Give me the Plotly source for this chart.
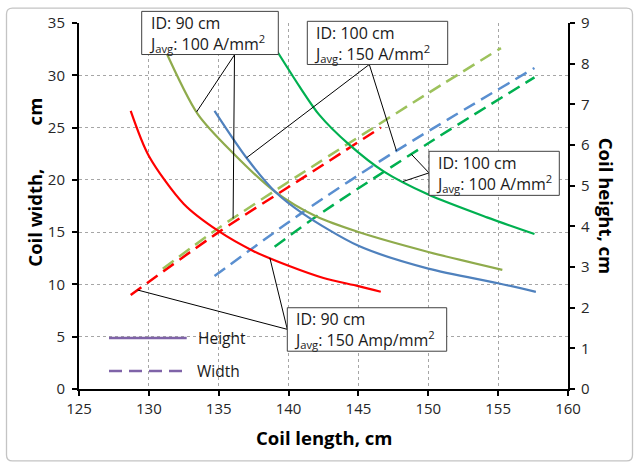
import numpy as np
import plotly.graph_objects as go

# ---------------- data ----------------
# Coil height (solid lines, right axis, cm) vs coil length (cm)
red_h_x = [128.7, 130.0, 132.5, 135.0, 137.5, 140.0, 142.5, 145.0, 146.6]
red_h_y = [6.84, 5.73, 4.55, 3.88, 3.39, 3.03, 2.73, 2.53, 2.39]
olive_h_x = [131.0, 133.5, 136.0, 139.0, 142.0, 145.0, 150.0, 155.3]
olive_h_y = [8.46, 6.76, 5.81, 4.86, 4.24, 3.86, 3.37, 2.93]
blue_h_x = [134.7, 137.0, 139.1, 141.0, 145.0, 150.0, 155.0, 157.7]
blue_h_y = [6.84, 5.68, 4.83, 4.32, 3.52, 2.96, 2.60, 2.39]
green_h_x = [138.9, 140.8, 142.2, 144.3, 146.8, 150.0, 154.2, 157.6]
green_h_y = [8.46, 7.43, 6.74, 6.02, 5.35, 4.78, 4.22, 3.81]

# Coil width (dashed lines, left axis, cm) vs coil length (cm)
red_w_x = [128.7, 135.0, 140.8, 146.6]
red_w_y = [9.0, 15.0, 20.0, 25.0]
olive_w_x = [131.0, 135.0, 140.8, 150.0, 155.2]
olive_w_y = [11.5, 15.4, 20.5, 28.3, 32.6]
blue_w_x = [134.7, 140.8, 147.5, 157.6]
blue_w_y = [10.8, 16.7, 22.6, 30.7]
green_w_x = [139.0, 142.2, 150.0, 157.6]
green_w_y = [13.6, 16.7, 23.5, 29.8]

x_ticks = [125, 130, 135, 140, 145, 150, 155, 160]
left_ticks = [0, 5, 10, 15, 20, 25, 30, 35]
right_ticks = [0, 1, 2, 3, 4, 5, 6, 7, 8, 9]

box_texts = [
    "ID: 90 cm<br>J<sub>avg</sub>: 100 A/mm<sup>2</sup>",
    "ID: 100 cm<br>J<sub>avg</sub>: 150 A/mm<sup>2</sup>",
    "ID: 100 cm<br>J<sub>avg</sub>: 100 A/mm<sup>2</sup>",
    "ID: 90 cm<br>J<sub>avg</sub>: 150 Amp/mm<sup>2</sup>",
]

# ---------------- geometry ----------------
W, H = 639, 468
L, R, T, B = 79, 71, 21, 79
PW, PH = W - L - R, H - T - B
XR = [125, 160]
YR = [0, 35]
Y2R = [0, 9]


def px(xp):
    return (xp - L) / PW


def py(yp):
    return (H - B - yp) / PH


def dx(xp):
    return XR[0] + (xp - L) / PW * (XR[1] - XR[0])


def dy(yp):
    return YR[0] + (H - B - yp) / PH * (YR[1] - YR[0])


FONT = "Open Sans, Noto Sans, sans-serif"

c_red = "#FF0000"
c_olive = "#8FAB4C"
c_olive_d = "#9DC25C"
c_blue = "#4F81BD"
c_blue_d = "#5A8FD0"
c_green = "#00B050"
DASH = "13px,7px"

fig = go.Figure()

solid = [(red_h_x, red_h_y, c_red, "ID 90, J 150 height"),
         (olive_h_x, olive_h_y, c_olive, "ID 90, J 100 height"),
         (blue_h_x, blue_h_y, c_blue, "ID 100, J 150 height"),
         (green_h_x, green_h_y, c_green, "ID 100, J 100 height")]
dashed = [(red_w_x, red_w_y, c_red, "ID 90, J 150 width"),
          (olive_w_x, olive_w_y, c_olive_d, "ID 90, J 100 width"),
          (blue_w_x, blue_w_y, c_blue_d, "ID 100, J 150 width"),
          (green_w_x, green_w_y, c_green, "ID 100, J 100 width")]

for xs, ys, c, n in dashed:
    fig.add_trace(go.Scatter(x=xs, y=ys, mode="lines", name=n, yaxis="y",
                             line=dict(color=c, width=2.5, dash=DASH, shape="spline", smoothing=0.8),
                             showlegend=False, hoverinfo="skip"))
for xs, ys, c, n in solid:
    fig.add_trace(go.Scatter(x=xs, y=ys, mode="lines", name=n, yaxis="y2",
                             line=dict(color=c, width=2.2, shape="spline", smoothing=0.8),
                             showlegend=False, hoverinfo="skip"))

# ---------------- leader lines (from box edge to points on the curves) ----------------
scale = (YR[1] - YR[0]) / (Y2R[1] - Y2R[0])


def on_h(xs, ys, x):
    return float(np.interp(x, xs, ys)) * scale


def on_w(xs, ys, x):
    return float(np.interp(x, xs, ys))


leaders = [
    ((234.5, 53.0), [(133.42, on_h(olive_h_x, olive_h_y, 133.42)),
                     (136.03, on_w(olive_w_x, olive_w_y, 136.03))]),
    ((369.3, 62.7), [(136.99, on_h(blue_h_x, blue_h_y, 136.99)),
                     (147.72, on_w(blue_w_x, blue_w_y, 147.72))]),
    ((429.0, 171.7), [(148.19, on_h(green_h_x, green_h_y, 148.19)),
                      (148.79, on_w(green_w_x, green_w_y, 148.79))]),
    ((287.3, 329.0), [(129.19, on_w(red_w_x, red_w_y, 129.19)),
                      (138.66, on_h(red_h_x, red_h_y, 138.66))]),
]
shapes = []
for (sx, sy), ends in leaders:
    for ex, ey in ends:
        shapes.append(dict(type="line", xref="x", yref="y", x0=dx(sx), y0=dy(sy), x1=ex, y1=ey,
                           line=dict(color="#000000", width=1), layer="above"))

# annotation boxes (drawn as rectangles, text added as annotations)
boxes = [(141.7, 9.3, 136.6, 43.4), (307.3, 19.3, 140.4, 43.4),
         (429.0, 150.0, 130.3, 44.3), (287.3, 307.3, 159.4, 43.7)]
for bx, by, bw, bh in boxes:
    shapes.append(dict(type="rect", xref="paper", yref="paper", x0=px(bx), x1=px(bx + bw),
                       y0=py(by + bh), y1=py(by), fillcolor="#FFFFFF",
                       line=dict(color="#404040", width=1), layer="above"))

# legend samples
LEG_PURPLE = "#7F63A8"
shapes.append(dict(type="line", xref="paper", yref="paper", x0=px(109), x1=px(186.7),
                   y0=py(337.7), y1=py(337.7), line=dict(color=LEG_PURPLE, width=2.5)))
shapes.append(dict(type="line", xref="paper", yref="paper", x0=px(109), x1=px(186.7),
                   y0=py(371), y1=py(371), line=dict(color=LEG_PURPLE, width=2.5, dash=DASH)))

# outer rounded border
x0b, x1b, y0b, y1b = 6.5, 632.5, 6.0, 461.3
r = 6
path = (f"M {px(x0b + r)},{py(y0b)} L {px(x1b - r)},{py(y0b)} Q {px(x1b)},{py(y0b)} {px(x1b)},{py(y0b + r)} "
        f"L {px(x1b)},{py(y1b - r)} Q {px(x1b)},{py(y1b)} {px(x1b - r)},{py(y1b)} "
        f"L {px(x0b + r)},{py(y1b)} Q {px(x0b)},{py(y1b)} {px(x0b)},{py(y1b - r)} "
        f"L {px(x0b)},{py(y0b + r)} Q {px(x0b)},{py(y0b)} {px(x0b + r)},{py(y0b)} Z")
shapes.append(dict(type="path", xref="paper", yref="paper", path=path,
                   line=dict(color="#C4C4C4", width=1.3), layer="below"))

# ---------------- annotations ----------------
annotations = []
for (bx, by, bw, bh), txt in zip(boxes, box_texts):
    annotations.append(dict(text=txt, xref="paper", yref="paper", x=px(bx + 6), y=py(by + bh / 2 + 1),
                            xanchor="left", yanchor="middle", align="left",
                            showarrow=False, borderpad=0,
                            font=dict(family=FONT, size=16, color="#1A1A1A")))

annotations.append(dict(text="Height", xref="paper", yref="paper", x=px(196), y=py(337.7),
                        xanchor="left", yanchor="middle", showarrow=False,
                        font=dict(family=FONT, size=15.5, color="#1A1A1A")))
annotations.append(dict(text="Width", xref="paper", yref="paper", x=px(195), y=py(371),
                        xanchor="left", yanchor="middle", showarrow=False,
                        font=dict(family=FONT, size=15.5, color="#1A1A1A")))

TITLE_SIZE = 18.5
annotations.append(dict(text="<b>Coil length, cm</b>", xref="paper", yref="paper",
                        x=px(323.7), y=py(438), xanchor="center", yanchor="middle",
                        showarrow=False, font=dict(family=FONT, size=TITLE_SIZE, color="#000000")))
annotations.append(dict(text="<b>Coil width," + "\u00a0" * 9 + "cm</b>", xref="paper", yref="paper",
                        x=px(35), y=py(181.5), xanchor="center", yanchor="middle", textangle=-90,
                        showarrow=False, font=dict(family=FONT, size=TITLE_SIZE, color="#000000")))
annotations.append(dict(text="<b>Coil height, cm</b>", xref="paper", yref="paper",
                        x=px(606.7), y=py(204.5), xanchor="center", yanchor="middle", textangle=90,
                        showarrow=False, font=dict(family=FONT, size=TITLE_SIZE, color="#000000")))

GRID = "#A6A6A6"
TICKFONT = dict(family=FONT, size=15, color="#262626")

fig.update_layout(
    width=W, height=H,
    margin=dict(l=L, r=R, t=T, b=B, pad=0),
    paper_bgcolor="#FFFFFF", plot_bgcolor="#FFFFFF",
    showlegend=False,
    shapes=shapes,
    annotations=annotations,
    xaxis=dict(range=XR, tickvals=x_ticks, showgrid=True, gridcolor=GRID, gridwidth=1,
               griddash="3px,3px", zeroline=False, showline=True, linecolor="#000000",
               linewidth=2, ticks="outside", ticklen=5, tickwidth=1.5, tickcolor="#000000",
               tickfont=TICKFONT, fixedrange=True),
    yaxis=dict(range=YR, tickvals=left_ticks, showgrid=True, gridcolor=GRID, gridwidth=1,
               griddash="3px,3px", zeroline=False, showline=True, linecolor="#000000",
               linewidth=2, ticks="outside", ticklen=5, tickwidth=1.5, tickcolor="#000000",
               tickfont=TICKFONT, ticklabelstandoff=4, fixedrange=True),
    yaxis2=dict(range=Y2R, tickvals=right_ticks, overlaying="y", side="right", showgrid=False,
                zeroline=False, showline=True, linecolor="#000000", linewidth=2,
                ticks="outside", ticklen=5, tickwidth=1.5, tickcolor="#000000",
                tickfont=TICKFONT, ticklabelstandoff=3, fixedrange=True),
)

fig.write_html("out.html", config={"displayModeBar": False},
               post_script="document.body.style.margin='0';")
